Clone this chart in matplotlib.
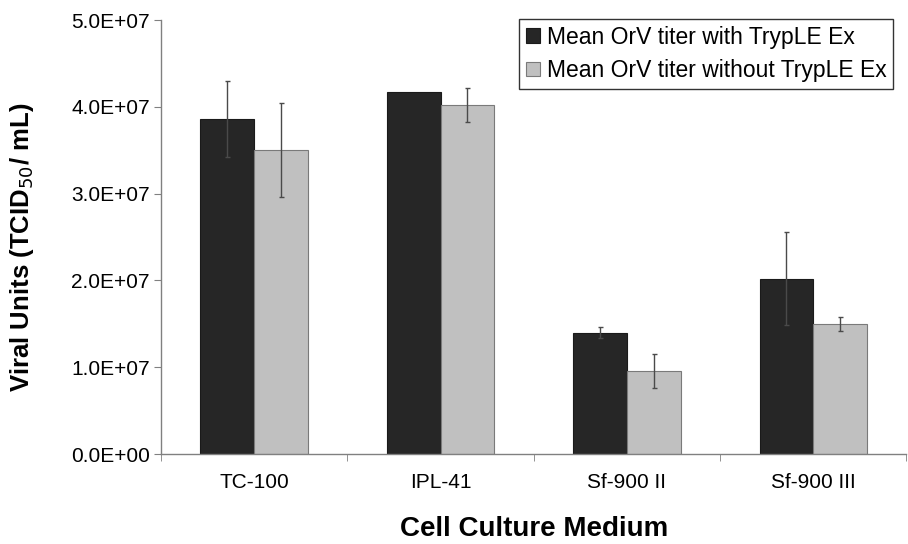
import matplotlib.pyplot as plt
import numpy as np

plt.rcParams['font.family'] = ['Liberation Sans', 'DejaVu Sans']

# Data
media = ['TC-100', 'IPL-41', 'Sf-900 II', 'Sf-900 III']
with_tryple = [3.86e7, 4.17e7, 1.40e7, 2.02e7]
with_tryple_err = [0.44e7, np.nan, 0.06e7, 0.535e7]  # no bar drawn for IPL-41
without_tryple = [3.50e7, 4.02e7, 0.96e7, 1.50e7]
without_tryple_err = [0.54e7, 0.20e7, 0.195e7, 0.08e7]
yticks = [0, 1e7, 2e7, 3e7, 4e7, 5e7]
ytick_labels = ['0.0E+00', '1.0E+07', '2.0E+07', '3.0E+07', '4.0E+07', '5.0E+07']

fig = plt.figure(figsize=(9.08, 5.44), dpi=100)
ax = fig.add_axes([0.1773, 0.1654, 0.821, 0.7978])

x = np.arange(len(media))
w = 0.288
dark = '#262626'
light = '#c0c0c0'
err_kw = dict(ecolor='#4a4a4a', elinewidth=1.0, capsize=1.8, capthick=1.0)

ax.bar(x - w / 2, with_tryple, w, color=dark, edgecolor='#1a1a1a', linewidth=0.8,
       yerr=with_tryple_err, error_kw=err_kw, label='Mean OrV titer with TrypLE Ex')
ax.bar(x + w / 2, without_tryple, w, color=light, edgecolor='#7a7a7a', linewidth=0.8,
       yerr=without_tryple_err, error_kw=err_kw, label='Mean OrV titer without TrypLE Ex')

ax.set_xlim(-0.5, len(media) - 0.5)
ax.set_ylim(0, 5e7)
ax.set_yticks(yticks)
ax.set_yticklabels(ytick_labels, fontsize=15)

# category labels centred, tick marks between categories
ax.set_xticks(x)
ax.set_xticklabels(media, fontsize=15)
ax.tick_params(axis='x', length=0, pad=14)
ax.set_xticks(np.arange(-0.5, len(media) + 0.5, 1), minor=True)
ax.tick_params(axis='x', which='minor', length=5, color='#808080', direction='out')
ax.tick_params(axis='y', length=5, color='#808080', direction='out', pad=3)

for side in ['top', 'right']:
    ax.spines[side].set_visible(False)
for side in ['left', 'bottom']:
    ax.spines[side].set_color('#808080')
    ax.spines[side].set_linewidth(1.0)

ax.set_ylabel('Viral Units (TCID$_{50}$/ mL)', fontsize=18.5, fontweight='bold')
ax.yaxis.set_label_coords(-0.167, 0.477)
ax.set_xlabel('Cell Culture Medium', fontsize=20, fontweight='bold', labelpad=17)

leg = ax.legend(loc='upper right', bbox_to_anchor=(0.9826, 1.003), fontsize=16.5,
                frameon=True, fancybox=False, edgecolor='black', handlelength=0.6,
                handleheight=0.6, handletextpad=0.3, borderpad=0.3, labelspacing=0.45,
                borderaxespad=0)
leg.get_frame().set_linewidth(1.0)

fig.savefig('out.png', dpi=100)
